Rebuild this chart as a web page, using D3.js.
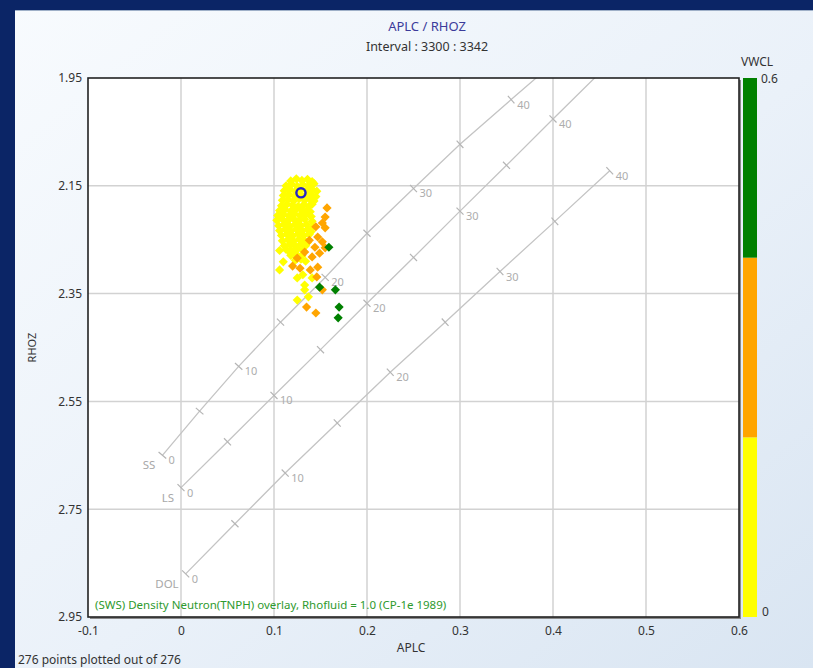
<!DOCTYPE html>
<html>
<head>
<meta charset="utf-8">
<script src="https://cdn.jsdelivr.net/npm/d3@7"></script>
<style>
  html, body { margin: 0; padding: 0; }
  body { width: 813px; height: 668px; overflow: hidden; }
  text { font-family: "Noto Sans", "Open Sans", sans-serif; }
</style>
</head>
<body>
<svg id="chart" width="813" height="668"></svg>
<script>
// ---- crossplot samples: neutron porosity (APLC), bulk density (RHOZ), clay volume (VWCL)
const aplc = [
  0.118,0.124,0.130,0.136,0.141,
  0.113,0.119,0.125,0.131,0.137,0.143,
  0.111,0.117,0.123,0.129,0.135,0.141,0.146,
  0.110,0.116,0.122,0.128,0.134,0.140,0.145,
  0.109,0.115,0.121,0.127,0.133,0.139,0.143,
  0.108,0.114,0.120,0.126,0.132,0.138,0.141,
  0.106,0.112,0.118,0.124,0.130,0.136,0.139,
  0.104,0.110,0.116,0.122,0.128,0.134,0.140,
  0.103,0.109,0.115,0.121,0.127,0.133,0.141,
  0.105,0.111,0.117,0.123,0.129,0.135,0.142,
  0.106,0.112,0.118,0.124,0.130,0.136,0.140,
  0.108,0.114,0.120,0.126,0.132,0.138,
  0.109,0.115,0.121,0.127,0.133,0.136,
  0.111,0.117,0.123,0.129,0.134,
  0.106,0.113,0.119,0.125,0.131,
  0.118,0.124,0.130,
  0.123,0.129,0.134,
  0.117,0.110,0.106,0.125,0.131,0.141,0.133,0.133,0.137,0.125,
  0.157,0.155,0.152,0.155,0.145,0.147,0.152,0.144,0.155,0.149,0.141,
  0.125,0.138,0.133,0.128,0.147,0.139,0.146,0.120,0.152,0.135,0.145,
  0.159,0.149,0.166,0.170,0.169
];
const rhoz = [
  2.141,2.137,2.140,2.138,2.142,
  2.150,2.147,2.151,2.148,2.150,2.146,
  2.159,2.157,2.160,2.156,2.159,2.157,2.160,
  2.168,2.166,2.169,2.165,2.168,2.166,2.170,
  2.177,2.175,2.178,2.174,2.177,2.175,2.178,
  2.187,2.184,2.186,2.188,2.185,2.187,2.184,
  2.196,2.194,2.197,2.193,2.196,2.194,2.198,
  2.205,2.203,2.206,2.202,2.205,2.203,2.207,
  2.214,2.212,2.215,2.211,2.214,2.212,2.216,
  2.224,2.222,2.225,2.221,2.224,2.222,2.226,
  2.233,2.231,2.234,2.230,2.233,2.231,2.235,
  2.242,2.240,2.243,2.239,2.242,2.240,
  2.252,2.250,2.253,2.249,2.252,2.255,
  2.261,2.259,2.262,2.258,2.261,
  2.270,2.268,2.271,2.267,2.270,
  2.279,2.277,2.280,
  2.288,2.286,2.290,
  2.273,2.291,2.306,2.321,2.315,2.321,2.334,2.343,2.356,2.362,
  2.191,2.208,2.219,2.228,2.226,2.245,2.254,2.264,2.265,2.275,2.282,
  2.284,2.251,2.273,2.303,2.301,2.306,2.319,2.299,2.343,2.375,2.386,
  2.264,2.338,2.343,2.375,2.395
];
const vwcl = [
  0.08,0.11,0.06,0.09,0.12,
  0.10,0.07,0.13,0.05,0.09,0.14,
  0.12,0.08,0.06,0.10,0.07,0.11,0.15,
  0.09,0.13,0.07,0.05,0.08,0.12,0.16,
  0.11,0.06,0.09,0.12,0.08,0.10,0.14,
  0.13,0.07,0.10,0.06,0.11,0.09,0.17,
  0.10,0.14,0.08,0.12,0.07,0.13,0.16,
  0.12,0.09,0.11,0.06,0.14,0.10,0.18,
  0.15,0.08,0.12,0.10,0.07,0.13,0.17,
  0.11,0.16,0.09,0.13,0.08,0.15,0.18,
  0.14,0.10,0.07,0.12,0.16,0.11,0.18,
  0.13,0.09,0.15,0.11,0.17,0.14,
  0.16,0.12,0.10,0.14,0.18,0.15,
  0.13,0.17,0.11,0.15,0.19,
  0.14,0.18,0.12,0.16,0.13,
  0.17,0.15,0.19,
  0.16,0.18,0.14,
  0.15,0.17,0.13,0.16,0.18,0.19,0.17,0.15,0.18,0.16,
  0.26,0.31,0.28,0.34,0.24,0.30,0.36,0.27,0.33,0.29,0.25,
  0.23,0.22,0.26,0.31,0.35,0.28,0.32,0.27,0.37,0.29,0.33,
  0.47,0.44,0.52,0.49,0.55
];
// highlighted reference point (blue ring)
const markerAplc = 0.129;
const markerRhoz = 2.163;

// ---- axes
const xTicks = [-0.1, 0, 0.1, 0.2, 0.3, 0.4, 0.5, 0.6];
const yTicks = [1.95, 2.15, 2.35, 2.55, 2.75, 2.95];

// ---- colour bar (VWCL)
const vwclBreaks = [0, 0.2, 0.4, 0.6];
const vwclColors = ["#ffff00", "#ffa500", "#008000"];

// ---- CP-1e lithology lines (Rhofluid = 1.0)
const lithNames = ["SS", "LS", "DOL"];
const lithPorosity = [0, 5, 10, 15, 20, 25, 30, 35, 40, 45];
const ssNeutron  = [-0.020, 0.020, 0.062, 0.107, 0.155, 0.200, 0.250, 0.300, 0.355, 0.410];
const ssDensity  = [2.650, 2.568, 2.485, 2.403, 2.320, 2.238, 2.155, 2.073, 1.990, 1.908];
const lsNeutron  = [0.000, 0.050, 0.100, 0.150, 0.200, 0.250, 0.300, 0.350, 0.400, 0.450];
const lsDensity  = [2.710, 2.625, 2.539, 2.454, 2.368, 2.283, 2.197, 2.112, 2.026, 1.941];
const dolNeutron = [0.005, 0.058, 0.112, 0.168, 0.225, 0.284, 0.343, 0.402, 0.461];
const dolDensity = [2.870, 2.777, 2.683, 2.590, 2.496, 2.403, 2.309, 2.216, 2.122];
const lithLabelled = [0, 10, 20, 30, 40];

const svg = d3.select("#chart");
const W = 813, H = 668;
const m = { left: 88, right: 739, top: 78, bottom: 617 };

const x = d3.scaleLinear().domain([-0.1, 0.6]).range([m.left, m.right]);
const y = d3.scaleLinear().domain([1.95, 2.95]).range([m.top, m.bottom]);

// window background
const defs = svg.append("defs");
const bg = defs.append("linearGradient").attr("id", "bg")
  .attr("x1", 0).attr("y1", 0).attr("x2", 1).attr("y2", 1);
bg.append("stop").attr("offset", 0).attr("stop-color", "#f8fbfe");
bg.append("stop").attr("offset", 0.55).attr("stop-color", "#eaf1f9");
bg.append("stop").attr("offset", 1).attr("stop-color", "#d9e5f2");
svg.append("rect").attr("width", W).attr("height", H).attr("fill", "url(#bg)");
defs.append("clipPath").attr("id", "plotClip")
  .append("rect").attr("x", m.left).attr("y", m.top)
  .attr("width", m.right - m.left).attr("height", m.bottom - m.top);

// window frame
svg.append("rect").attr("x", 0).attr("y", 0).attr("width", W).attr("height", 10).attr("fill", "#0b2566");
svg.append("rect").attr("x", 0).attr("y", 0).attr("width", 15).attr("height", H).attr("fill", "#0b2566");
svg.append("line").attr("x1", 15).attr("x2", W).attr("y1", 10.5).attr("y2", 10.5)
  .attr("stroke", "#9fb0c8").attr("stroke-width", 1);

// titles
svg.append("text").attr("x", 427).attr("y", 31).attr("text-anchor", "middle")
  .attr("font-size", 13).attr("fill", "#3b3b9a").text("APLC / RHOZ");
svg.append("text").attr("x", 427).attr("y", 51).attr("text-anchor", "middle")
  .attr("font-size", 12.5).attr("fill", "#333").text("Interval : 3300 : 3342");

// plot area
svg.append("rect").attr("x", m.left + 2).attr("y", m.top + 2)
  .attr("width", m.right - m.left).attr("height", m.bottom - m.top)
  .attr("fill", "#8a8a8a");
svg.append("rect").attr("x", m.left).attr("y", m.top)
  .attr("width", m.right - m.left).attr("height", m.bottom - m.top)
  .attr("fill", "#fff");

// grid
const grid = svg.append("g").attr("stroke", "#d2d2d2").attr("stroke-width", 1.5);
grid.selectAll("line.v").data(xTicks.slice(1, -1)).join("line").attr("class", "v")
  .attr("x1", d => x(d)).attr("x2", d => x(d)).attr("y1", m.top).attr("y2", m.bottom);
grid.selectAll("line.h").data(yTicks.slice(1, -1)).join("line").attr("class", "h")
  .attr("x1", m.left).attr("x2", m.right).attr("y1", d => y(d)).attr("y2", d => y(d));

// lithology overlay
const lithSeries = [
  { name: lithNames[0], nphi: ssNeutron, rho: ssDensity },
  { name: lithNames[1], nphi: lsNeutron, rho: lsDensity },
  { name: lithNames[2], nphi: dolNeutron, rho: dolDensity }
];
const overlay = svg.append("g").attr("clip-path", "url(#plotClip)");
const lineGen = d3.line().x(d => x(d[0])).y(d => y(d[1]));
lithSeries.forEach(s => {
  const pts = s.nphi.map((v, i) => [v, s.rho[i]]);
  overlay.append("path").attr("d", lineGen(pts)).attr("fill", "none")
    .attr("stroke", "#c4c4c4").attr("stroke-width", 1.3);
  pts.forEach((p, i) => {
    const por = lithPorosity[i];
    if (por > 40) return;
    const a = pts[Math.max(0, i - 1)], b = pts[Math.min(pts.length - 1, i + 1)];
    const dx = x(b[0]) - x(a[0]), dy = y(b[1]) - y(a[1]);
    const len = Math.hypot(dx, dy);
    const nx = -dy / len * 5, ny = dx / len * 5;
    const px = x(p[0]), py = y(p[1]);
    overlay.append("line").attr("x1", px - nx).attr("y1", py - ny)
      .attr("x2", px + nx).attr("y2", py + ny)
      .attr("stroke", "#b4b4b4").attr("stroke-width", 1.2);
    if (lithLabelled.includes(por)) {
      overlay.append("text").attr("x", px + 6).attr("y", py + 9)
        .attr("font-size", 11).attr("fill", "#adadad").text(por);
    }
    if (por === 0) {
      overlay.append("text").attr("x", px - 7).attr("y", py + 14)
        .attr("text-anchor", "end").attr("font-size", 11.5).attr("fill", "#a8a8a8").text(s.name);
    }
  });
});

// overlay caption
svg.append("text").attr("x", 95).attr("y", 609).attr("font-size", 11.5)
  .attr("fill", "#2e9a2e").text("(SWS) Density Neutron(TNPH) overlay, Rhofluid = 1.0 (CP-1e 1989)");

// points
const colorOf = d3.scaleThreshold().domain(vwclBreaks.slice(1, -1)).range(vwclColors);
const pts = aplc.map((v, i) => ({ x: v, y: rhoz[i], c: vwcl[i] }));
const dm = 4.6;
const diamond = `M0,${-dm}L${dm},0L0,${dm}L${-dm},0Z`;
svg.append("g").attr("clip-path", "url(#plotClip)")
  .selectAll("path").data(pts).join("path")
  .attr("d", diamond)
  .attr("transform", d => `translate(${x(d.x)},${y(d.y)})`)
  .attr("fill", d => colorOf(d.c));

svg.append("circle").attr("cx", x(markerAplc)).attr("cy", y(markerRhoz)).attr("r", 4.6)
  .attr("fill", "none").attr("stroke", "#2424c8").attr("stroke-width", 2.4);

// frame
svg.append("rect").attr("x", m.left).attr("y", m.top)
  .attr("width", m.right - m.left).attr("height", m.bottom - m.top)
  .attr("fill", "none").attr("stroke", "#222").attr("stroke-width", 1.6);

// axes
const xAxis = d3.axisBottom(x).tickValues(xTicks).tickSize(0).tickPadding(9)
  .tickFormat(d => d === 0 ? "0" : d3.format(".1f")(d).replace("\u2212", "-"));
const gx = svg.append("g").attr("transform", `translate(0,${m.bottom})`).call(xAxis);
gx.select(".domain").remove();
gx.selectAll("text").attr("font-size", 12).attr("fill", "#333")
  .attr("font-family", "'Noto Sans', sans-serif");

const yAxis = d3.axisLeft(y).tickValues(yTicks).tickSize(0).tickPadding(6)
  .tickFormat(d3.format(".2f"));
const gy = svg.append("g").attr("transform", `translate(${m.left},0)`).call(yAxis);
gy.select(".domain").remove();
gy.selectAll("text").attr("font-size", 12).attr("fill", "#333")
  .attr("font-family", "'Noto Sans', sans-serif");

svg.append("text").attr("x", 411).attr("y", 652).attr("text-anchor", "middle")
  .attr("font-size", 12).attr("fill", "#333").text("APLC");
svg.append("text").attr("transform", `translate(36,${(m.top + m.bottom) / 2}) rotate(-90)`)
  .attr("text-anchor", "middle").attr("font-size", 11).attr("fill", "#333").text("RHOZ");

svg.append("text").attr("x", 18).attr("y", 664).attr("font-size", 12)
  .attr("fill", "#333").text("276 points plotted out of 276");

// colour bar
const yc = d3.scaleLinear().domain([0, 0.6]).range([m.bottom, m.top]);
const bands = vwclColors.map((c, i) => ({ lo: vwclBreaks[i], hi: vwclBreaks[i + 1], c }));
svg.append("g").selectAll("rect").data(bands).join("rect")
  .attr("x", 743).attr("width", 14)
  .attr("y", d => yc(d.hi)).attr("height", d => yc(d.lo) - yc(d.hi))
  .attr("fill", d => d.c);
svg.append("text").attr("x", 757).attr("y", 66).attr("text-anchor", "middle")
  .attr("font-size", 12).attr("fill", "#333").text("VWCL");
svg.append("text").attr("x", 761).attr("y", yc(0.6) + 5).attr("font-size", 12)
  .attr("fill", "#333").text(d3.format(".1f")(vwclBreaks[3]));
svg.append("text").attr("x", 762).attr("y", yc(0) - 1).attr("font-size", 12)
  .attr("fill", "#333").text(vwclBreaks[0]);
</script>
</body>
</html>
